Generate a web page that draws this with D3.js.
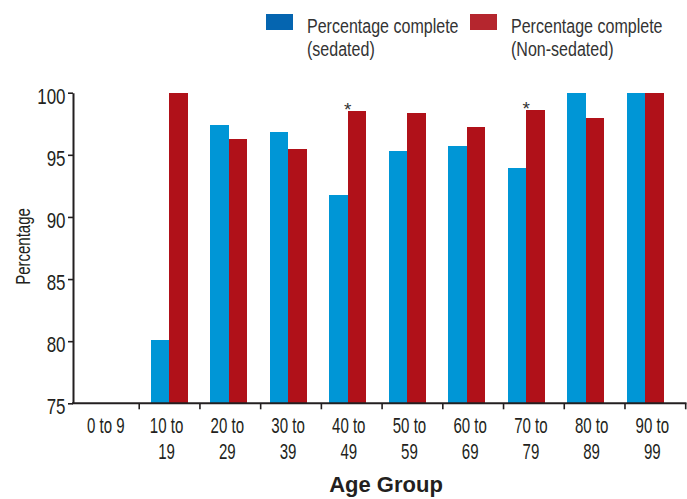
<!DOCTYPE html>
<html>
<head>
<meta charset="utf-8">
<script src="https://cdn.jsdelivr.net/npm/d3@7"></script>
<style>
  html, body { margin: 0; padding: 0; background: #fff; }
  svg { display: block; }
</style>
</head>
<body>
<svg id="chart" width="687" height="499"></svg>
<script>
// Completion rate by age group, sedated vs non-sedated
const categories = ["0 to 9", "10 to 19", "20 to 29", "30 to 39", "40 to 49",
                    "50 to 59", "60 to 69", "70 to 79", "80 to 89", "90 to 99"];
const sedated    = [null, 80.1, 97.4, 96.8, 91.8, 95.3, 95.7, 93.9, 100, 100];
const nonSedated = [null, 100, 96.3, 95.5, 98.5, 98.4, 97.2, 98.6, 98.0, 100];
const seriesKeys   = ["sedated", "nonSedated"];
const seriesLabels = [["Percentage complete", "(sedated)"], ["Percentage complete", "(Non-sedated)"]];
const yTicks  = [75, 80, 85, 90, 95, 100];
const flagged = ["40 to 49", "70 to 79"];   // groups marked with an asterisk

const barColors    = ["#0096d6", "#b01119"];
const legendColors = ["#0565b0", "#b5262e"];
const ink = "#231f20";
const sans = "'Liberation Sans', Arial, Helvetica, sans-serif";

const svg = d3.select("#chart");

const rows = categories.map((c, i) => ({ cat: c, sedated: sedated[i], nonSedated: nonSedated[i] }));

// scales
const y = d3.scaleLinear().domain([75, 100]).range([403.3, 92.7]);
const xAxisScale = d3.scaleBand().domain(categories).range([78.5, 685.7]).padding(0);
const xBar = d3.scaleBand().domain(categories).range([80, 675]).padding(0);
const groupWidth = 37.4;
const xSub = d3.scaleBand().domain(seriesKeys).range([0, groupWidth]).padding(0);
const color = d3.scaleOrdinal().domain(seriesKeys).range(barColors);

// bars
const groups = svg.append("g").selectAll("g")
  .data(rows).join("g")
  .attr("transform", d => `translate(${xBar(d.cat) + (xBar.bandwidth() - groupWidth) / 2},0)`);

groups.selectAll("rect")
  .data(d => seriesKeys.filter(k => d[k] != null).map(k => ({ key: k, value: d[k] })))
  .join("rect")
  .attr("x", d => xSub(d.key))
  .attr("width", xSub.bandwidth())
  .attr("y", d => y(d.value))
  .attr("height", d => y(75) - y(d.value))
  .attr("fill", d => color(d.key))
  .attr("shape-rendering", "crispEdges");

// asterisks over flagged groups
svg.append("g").selectAll("text")
  .data(rows.filter(d => flagged.includes(d.cat)))
  .join("text")
  .attr("x", d => xBar(d.cat) + xBar.bandwidth() / 2)
  .attr("y", d => y(Math.max(d.sedated, d.nonSedated)) + 4.5)
  .attr("text-anchor", "middle")
  .attr("font-family", sans)
  .attr("font-size", 19)
  .attr("fill", "#333")
  .text("*");

// y axis
const yAxis = svg.append("g")
  .attr("transform", "translate(73,0)")
  .call(d3.axisLeft(y).tickValues(yTicks).tickSize(5).tickSizeOuter(0).tickFormat(d3.format("d")));
yAxis.select(".domain").attr("stroke", ink).attr("stroke-width", 2);
yAxis.selectAll(".tick line").attr("stroke", ink).attr("stroke-width", 1.6);
yAxis.selectAll(".tick text")
  .attr("x", 0).attr("dy", null).attr("y", 0)
  .attr("transform", "translate(-7.5,10.5) scale(0.77,1)")
  .attr("font-family", sans).attr("font-size", 22).attr("fill", ink)
  .attr("text-anchor", "end");

// x axis: ticks sit on the band boundaries, labels in the middle
const xAxis = svg.append("g")
  .attr("transform", `translate(0,${y(75)})`)
  .call(d3.axisBottom(xAxisScale).tickSize(6).tickSizeOuter(0));
xAxis.select(".domain").remove();
xAxis.append("line")
  .attr("x1", 72).attr("x2", 686.5)
  .attr("stroke", ink).attr("stroke-width", 2);
xAxis.selectAll(".tick line")
  .attr("x1", xAxisScale.step() / 2).attr("x2", xAxisScale.step() / 2)
  .attr("stroke", ink).attr("stroke-width", 1.6);
xAxis.selectAll(".tick text").each(function(d) {
  const t = d3.select(this);
  const lines = d.length > 6 ? [d.slice(0, d.lastIndexOf(" ")), d.slice(d.lastIndexOf(" ") + 1)] : [d];
  t.text(null)
    .attr("y", 0).attr("dy", null)
    .attr("transform", "translate(-3,29.5) scale(0.7,1)")
    .attr("font-family", sans).attr("font-size", 21.5).attr("fill", ink);
  lines.forEach((ln, i) => t.append("tspan").attr("x", 0).attr("y", i * 26.7).text(ln));
});

// axis titles
svg.append("text")
  .attr("transform", "translate(29.5,246.5) rotate(-90) scale(0.77,1)")
  .attr("text-anchor", "middle")
  .attr("font-family", sans).attr("font-size", 19.5).attr("fill", ink)
  .text("Percentage");

svg.append("text")
  .attr("x", 386).attr("y", 492)
  .attr("text-anchor", "middle")
  .attr("font-family", sans).attr("font-weight", "bold").attr("font-size", 22).attr("fill", ink)
  .text("Age Group");

// legend
const legendX = [266, 470];
const legend = svg.append("g").selectAll("g")
  .data(seriesKeys).join("g")
  .attr("transform", (d, i) => `translate(${legendX[i]},14)`);
legend.append("rect")
  .attr("width", 27).attr("height", 16)
  .attr("fill", (d, i) => legendColors[i]);
legend.append("text")
  .attr("transform", "translate(41,19.3) scale(0.764,1)")
  .attr("font-family", sans).attr("font-size", 21).attr("fill", "#333")
  .each(function(d, i) {
    const t = d3.select(this);
    seriesLabels[i].forEach((ln, j) => t.append("tspan").attr("x", 0).attr("y", j * 23).text(ln));
  });
</script>
</body>
</html>
